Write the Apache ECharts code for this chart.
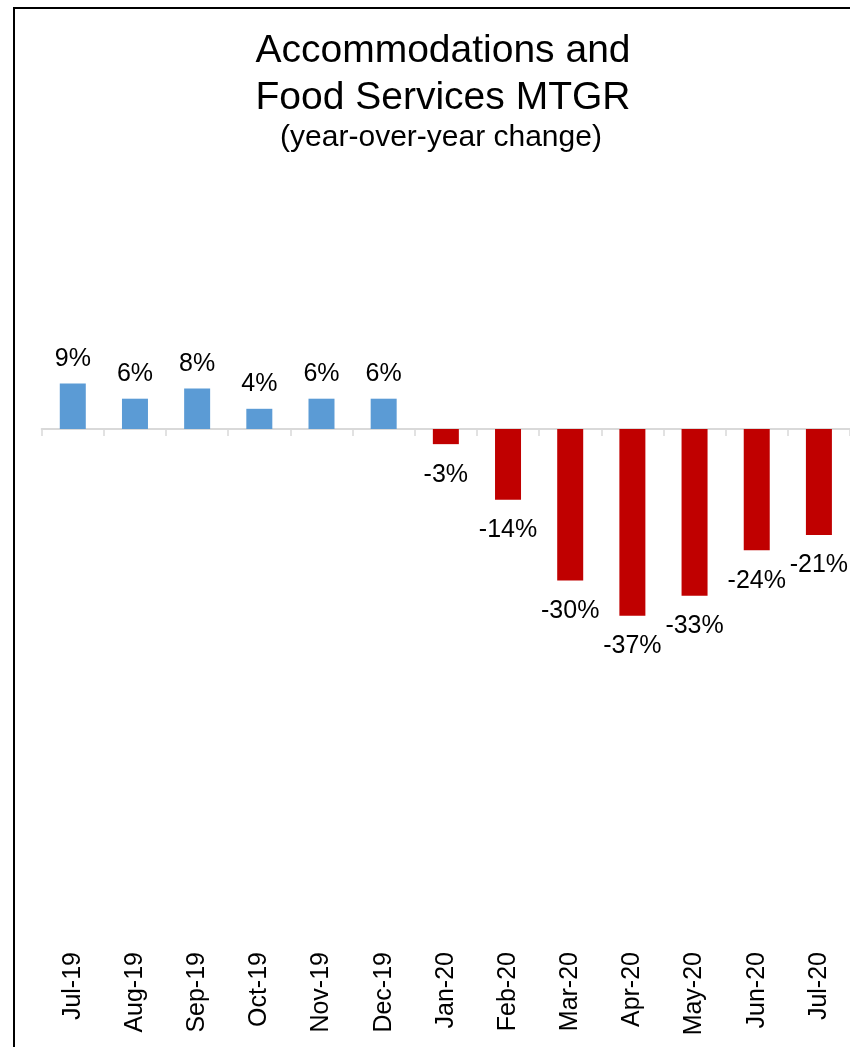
<!DOCTYPE html>
<html>
<head>
<meta charset="utf-8">
<script src="https://cdn.jsdelivr.net/npm/echarts@6/dist/echarts.min.js"></script>
<style>
  html, body { margin: 0; padding: 0; background: #fff; }
  #chart { width: 850px; height: 1047px; }
</style>
</head>
<body>
<div id="chart"></div>
<script>
const months = ['Jul-19','Aug-19','Sep-19','Oct-19','Nov-19','Dec-19','Jan-20','Feb-20','Mar-20','Apr-20','May-20','Jun-20','Jul-20'];
const mtgr = [9, 6, 8, 4, 6, 6, -3, -14, -30, -37, -33, -24, -21];
const titleLines = ['Accommodations and', 'Food Services MTGR'];
const subtitle = '(year-over-year change)';

const BLUE = '#5B9BD5';
const RED = '#C00000';
const FONT = '"Liberation Sans", Arial, sans-serif';

const chart = echarts.init(document.getElementById('chart'));

const barData = mtgr.map(v => ({
  value: v,
  itemStyle: { color: v >= 0 ? BLUE : RED },
  label: { position: v >= 0 ? 'top' : 'bottom', distance: v >= 0 ? 12 : 18 }
}));

chart.setOption({
  animation: false,
  backgroundColor: '#ffffff',
  textStyle: { fontFamily: FONT },
  graphic: [
    { type: 'rect', silent: true, shape: { x: 14, y: 8, width: 900, height: 1100 },
      style: { fill: 'none', stroke: '#000', lineWidth: 2 } },
    { type: 'text', x: 443, y: 51, style: { text: titleLines[0], font: '39px ' + FONT, fill: '#000', textAlign: 'center', textVerticalAlign: 'middle' } },
    { type: 'text', x: 443, y: 98, style: { text: titleLines[1], font: '39px ' + FONT, fill: '#000', textAlign: 'center', textVerticalAlign: 'middle' } },
    { type: 'text', x: 441, y: 138, style: { text: subtitle, font: '30px ' + FONT, fill: '#000', textAlign: 'center', textVerticalAlign: 'middle' } }
  ],
  grid: { left: 41.7, top: 176.5, width: 814, height: 757.5, containLabel: false },
  xAxis: [
    {
      type: 'category', data: months, position: 'bottom', boundaryGap: true,
      axisLine: { show: true, onZero: true, lineStyle: { color: '#d9d9d9', width: 2 } },
      axisTick: { show: true, length: 7, lineStyle: { color: '#d9d9d9', width: 1.5 } },
      axisLabel: { show: false }, splitLine: { show: false }
    },
    {
      type: 'category', data: months, position: 'bottom', boundaryGap: true,
      axisLine: { show: false, onZero: false }, axisTick: { show: false },
      axisLabel: { show: true, rotate: 90, fontSize: 25, color: '#000', margin: 18, fontFamily: FONT },
      splitLine: { show: false }
    }
  ],
  yAxis: {
    type: 'value', min: -100, max: 50, interval: 50,
    axisLine: { show: false }, axisTick: { show: false },
    axisLabel: { show: false }, splitLine: { show: false }
  },
  series: [{
    type: 'bar', xAxisIndex: 0, yAxisIndex: 0,
    data: barData, barWidth: 26,
    label: {
      show: true, fontSize: 25, color: '#000', fontFamily: FONT,
      formatter: p => p.value + '%'
    }
  }]
});
</script>
</body>
</html>
